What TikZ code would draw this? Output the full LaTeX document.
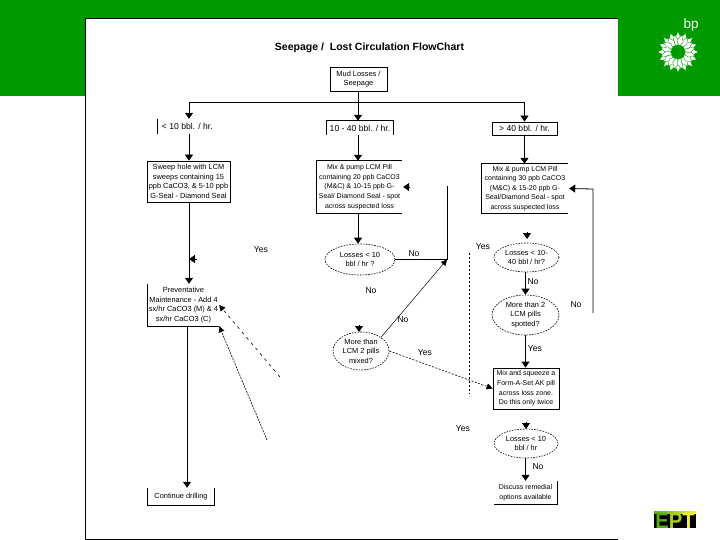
\documentclass[tikz,border=0pt]{standalone}
\usepackage{fontspec}
\setmainfont{Liberation Sans}
\usetikzlibrary{arrows.meta,shapes.geometric}
\definecolor{bpgreen}{RGB}{0,153,0}
\definecolor{eptgreen}{RGB}{90,170,20}
\definecolor{eptlime}{RGB}{165,205,30}
\definecolor{eptyellow}{RGB}{240,245,60}
\tikzset{
  lbl/.style={inner sep=0pt, font=\fontsize{8.6}{9.6}\selectfont},
  txt/.style={inner sep=0pt, align=center, font=\fontsize{7.4}{9.6}\selectfont},
  txtsmall/.style={txt, font=\fontsize{7}{9.6}\selectfont},
  rate/.style={txt, font=\fontsize{8.6}{9.6}\selectfont},
  flowbox/.style={draw, line width=.8pt},
  lossbub/.style={ellipse, draw, dash pattern=on 1.6pt off 1.2pt, line width=.6pt},
  flowline/.style={line width=.8pt},
  flowarrow/.style={flowline, -{Triangle[length=6pt,width=8pt]}},
  thinarrow/.style={line width=.5pt, -{Triangle[length=6pt,width=6pt]}},
}
\begin{document}
\begin{tikzpicture}[x=1pt, y=-1pt, line cap=butt]
  \useasboundingbox (0,0) rectangle (720,540);

  % groene balk en pagina
  \fill[bpgreen] (0,0) rectangle (720,96);
  \fill[white] (85,18) rectangle (618,540);
  \draw[line width=.8pt] (618,18) -- (85,18) -- (85,540);
  \draw[line width=.8pt] (85,539.5) -- (618,539.5);

  % bp logo
  \node[white, inner sep=0pt, font=\fontsize{13.5}{13.5}\selectfont] (bp) at (691,25) {bp};
  \foreach \a in {0,22.5,...,337.5} {
    \filldraw[fill=white, draw=bpgreen, line width=.35pt, rotate around={\a:(678,52)}] (678,31.5) -- (681.5,39) -- (678,47) -- (674.5,39) -- cycle;
  }
  \foreach \a in {11.25,33.75,...,348.75} {
    \filldraw[fill=white, draw=bpgreen, line width=.35pt, rotate around={\a:(678,52)}] (678,34.5) -- (681.2,41) -- (678,46.5) -- (674.8,41) -- cycle;
  }
  \fill[bpgreen] (678,52) circle (7);

  % EPT logo
  \fill[black] (654,511) rectangle (696,528);
  \shade[left color=eptgreen, right color=eptyellow] (654,511) rectangle (696,513);
  \node[inner sep=0pt, anchor=base, xscale=.92, font=\fontsize{22}{22}\selectfont\bfseries] (ept) at (675,528) {\textcolor{eptgreen}{E}\textcolor{eptlime}{P}\textcolor{eptyellow}{T}};

  % titel
  \node[inner sep=0pt, font=\fontsize{10.5}{12}\selectfont\bfseries] (title) at (369.5,48) {Seepage /\ \ Lost Circulation FlowChart};

  % bovenste rij
  \node[txt, flowbox, minimum width=57pt, minimum height=24pt] (mud) at (358.5,79) {Mud Losses /\\Seepage};
  \node[rate, anchor=west, minimum width=48pt, minimum height=15pt] (low) at (157,126.5) {\ \ < 10 bbl. / hr.};
  \node[rate, minimum width=66pt, minimum height=14pt] (mid) at (360,128) {10 - 40 bbl. / hr.};
  \node[rate, flowbox, minimum width=65pt, minimum height=13pt] (high) at (524.5,128.5) {> 40 bbl. / hr.};
  \coordinate (split) at (358,102);
  \coordinate (splitL) at (189,102);
  \coordinate (splitR) at (524.5,102);

  % tweede rij
  \node[txt, flowbox, minimum width=83pt, minimum height=41pt] (sweep) at (188.5,181.5) {Sweep hole with LCM\\sweeps containing 15\\ppb CaCO3, \& 5-10 ppb\\G-Seal - Diamond Seal};
  \node[txtsmall, minimum width=85pt, minimum height=52pt] (pillA) at (359.5,187) {Mix \& pump LCM Pill\\containing 20 ppb CaCO3\\(M\&C) \& 10-15 ppb G-\\Seal/ Diamond Seal - spot\\across suspected loss};
  \node[txtsmall, minimum width=86pt, minimum height=49pt] (pillB) at (525,188.5) {Mix \& pump LCM Pill\\containing 30 ppb CaCO3\\(M\&C) \& 15-20 ppb G-\\Seal/Diamond Seal - spot\\across suspected loss};

  % ellipsen
  \node[txt, lossbub, minimum width=70pt, minimum height=31pt] (lossA) at (360,259.5) {Losses < 10\\bbl / hr ?};
  \node[txt, lossbub, minimum width=65pt, minimum height=29pt] (lossB) at (526.5,257.5) {Losses < 10-\\40 bbl / hr?};
  \node[txt, lossbub, minimum width=67pt, minimum height=40pt] (moreB) at (525.5,315) {More than 2\\LCM pills\\spotted?};
  \node[txt, lossbub, minimum width=56pt, minimum height=38pt] (moreA) at (361,351) {More than\\LCM 2 pills\\mixed?};
  \node[txt, lossbub, minimum width=64pt, minimum height=29pt] (lossC) at (526,443.5) {Losses < 10\\bbl / hr};

  % onderste rij
  \node[txt, minimum width=71pt, minimum height=42pt] (prevent) at (183.5,305) {Preventative\\Maintenance - Add 4\\sx/hr CaCO3 (M) \& 4\\sx/hr CaCO3 (C)};
  \node[txtsmall, flowbox, minimum width=66pt, minimum height=41pt] (squeeze) at (526,388.5) {Mix and squeeze a\\Form-A-Set AK pill\\across loss zone.\\Do this only twice};
  \node[txt, minimum width=66pt, minimum height=17pt] (cont) at (181,496.5) {Continue drilling};
  \node[txtsmall, minimum width=63pt, minimum height=23pt] (discuss) at (525.5,492.5) {Discuss remedial\\options available};

  % open randen
  \draw[flowline] (low.north west) -- (low.south west);
  \draw[flowline] (mid.south west) -- (mid.north west) -- (mid.north east) -- (mid.south east);
  \draw[flowline] (pillA.north east) -- (pillA.north west) -- (pillA.south west) -- (pillA.south east);
  \draw[flowline] (pillB.north east) -- (pillB.north west) -- (pillB.south west) -- (pillB.south east);
  \draw[flowline] (prevent.north west) -- (prevent.south west) -- (prevent.south east);
  \draw[flowline] (cont.north west) -- (cont.south west) -- (cont.south east) -- (cont.north east);
  \draw[flowline] (discuss.north east) -- (discuss.south east) -- (discuss.south west);

  % lijnen
  \draw[flowline] (mud.south -| split) -- (split);
  \draw[flowline] (splitL) -- (splitR);
  \draw[flowarrow] (split) -- (mid.north -| split);
  \draw[flowarrow] (splitL) -- (low.north -| splitL);
  \draw[flowarrow] (splitR) -- (high.north -| splitR);
  \draw[flowarrow] (low.south -| splitL) -- (sweep.north -| splitL);
  \draw[flowarrow] (mid.south -| split) -- (pillA.north -| split);
  \draw[flowarrow] (high.south -| splitR) -- (pillB.north -| splitR);
  \draw[flowarrow] (sweep.south -| splitL) -- (prevent.north -| splitL);
  \draw[flowarrow] (pillA.south -| split) -- (lossA.north -| split);
  \coordinate (preL) at (187,0);
  \draw[flowarrow] (prevent.south -| preL) -- (cont.north -| preL);

  % pijlen rechts
  \coordinate (loopA) at (447,259.5);
  \coordinate (loopAup) at (447,186);
  \coordinate (tipA) at (410,187);
  \coordinate (loopB) at (593,313);
  \coordinate (loopBup) at (593,189);
  \draw[flowline] (lossA.east) -- (loopA) -- (loopAup);
  \draw[flowarrow] (tipA) -- ([xshift=1pt]pillA.east);
  \draw[flowarrow] (loopB) -- (loopBup) -- ([xshift=1pt]pillB.east);
  \coordinate (tipB) at (527,232);
  \draw[flowarrow] (tipB) -- (527,239);
  \coordinate (tipD) at (359,325);
  \draw[flowarrow] (tipD) -- (359,332);
  \coordinate (tipE) at (526,422);
  \draw[flowarrow] (tipE) -- (526,429);
  \coordinate (tipY) at (197,259);
  \draw[flowarrow] (tipY) -- (189,259);
  \draw[flowarrow] (lossB.south -| moreB) -- (moreB.north);
  \draw[flowarrow] (moreB.south) -- (squeeze.north -| moreB);
  \draw[flowarrow] (lossC.south -| discuss) -- (discuss.north);
  \draw[thinarrow] (moreA.north east) -- (loopA);

  % gestippelde lijnen
  \coordinate (dashEnd) at (469,253);
  \coordinate (dashEndB) at (469,394);
  \draw[line width=.6pt, dash pattern=on 2pt off 2pt] (dashEnd) -- (dashEndB);
  \coordinate (fromA) at (280,377);
  \coordinate (fromB) at (267,440);
  \draw[line width=.6pt, dash pattern=on 3pt off 4pt, -{Triangle[length=6pt,width=6pt]}] (fromA) -- (prevent.east);
  \draw[line width=.6pt, dash pattern=on 2pt off 1pt, -{Triangle[length=6pt,width=6pt]}] (fromB) -- (prevent.south east);
  \draw[line width=.6pt, dash pattern=on 2pt off 1.5pt, -{Triangle[length=6pt,width=6pt]}] (moreA.east) -- (squeeze.west);

  % ja / nee
  \node[lbl] (yes1) at (261,250) {Yes};
  \node[lbl] (no1) at (414,254) {No};
  \node[lbl] (yes2) at (483,247) {Yes};
  \node[lbl] (no2) at (533,282) {No};
  \node[lbl] (no3) at (576,305) {No};
  \node[lbl] (no4) at (371,291) {No};
  \node[lbl] (no5) at (403,320) {No};
  \node[lbl] (yes3) at (425,353) {Yes};
  \node[lbl] (yes4) at (535,349) {Yes};
  \node[lbl] (yes5) at (463,429) {Yes};
  \node[lbl] (no6) at (538,467) {No};
\end{tikzpicture}
\end{document}
